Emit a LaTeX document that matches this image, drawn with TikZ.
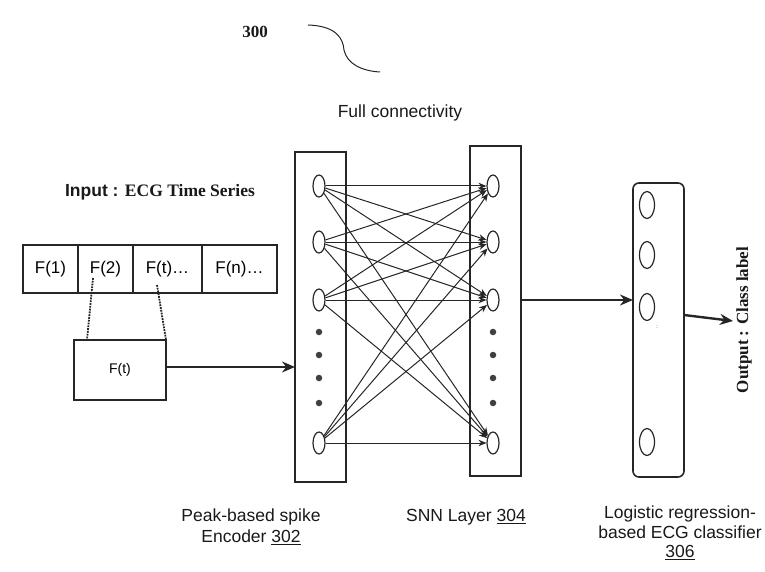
\documentclass[tikz,border=0pt]{standalone}
\usepackage{fontspec}
\setmainfont{Liberation Sans}
\newfontfamily\timesfont{Liberation Serif}
\usepackage{tikz}
\usetikzlibrary{arrows.meta,positioning,shapes.geometric}
\tikzset{
  layerbox/.style={
    rectangle, draw=black!85, line width=1.6pt,
    minimum width=51pt, inner sep=0pt, outer sep=0pt
  },
  neuron/.style={
    ellipse, draw=black!85, line width=1.2pt,
    minimum width=12pt, minimum height=22pt, inner sep=0pt
  },
  clsneuron/.style={
    ellipse, draw=black!85, line width=1.2pt,
    minimum width=15pt, minimum height=27pt, inner sep=0pt
  },
  dotmark/.style={circle, fill=black!75, minimum size=6.5pt, inner sep=0pt},
  cell/.style={
    rectangle, draw=black!85, line width=1.4pt, minimum height=48pt,
    inner sep=0pt, outer sep=0pt, font=\fontsize{17}{20}\selectfont
  },
  link/.style={-{Stealth[length=8pt,width=6.5pt]}, line width=1pt, black!85},
  arrow/.style={-{Stealth[length=13pt,width=11pt]}, line width=2.4pt, black!85},
  tap/.style={densely dotted, line width=1.8pt, black!85},
  caption/.style={font=\fontsize{17.5}{21}\selectfont, align=center, text=black!90},
  serifcap/.style={font=\timesfont\bfseries\fontsize{17}{20}\selectfont, text=black!90},
}

\begin{document}
\begin{tikzpicture}[x=1pt, y=-1pt]
  \useasboundingbox (0,0) rectangle (765,572);

  % Figure number and leader
  \node[serifcap] (fignum) at (255,32) {300};
  \draw[line width=1pt, black!85] (308,25) .. controls (336,26) and (343,38) .. (344,50)
    .. controls (347,64) and (362,71) .. (380,72);

  % Input time series
  \node[caption] (inlbl) at (160,192)
    {\bfseries Input : {\timesfont\bfseries ECG Time Series}};
  \node[cell, minimum width=55pt, anchor=west] (f1) at (23,269) {F(1)};
  \node[cell, minimum width=55pt, right=0pt of f1] (f2) {F(2)};
  \node[cell, minimum width=69pt, right=0pt of f2] (f3) {F(t)\dots};
  \node[cell, minimum width=75pt, right=0pt of f3] (f4) {F(n)\dots};

  % Current sample
  \node[cell, minimum width=92pt, minimum height=60pt,
    font=\fontsize{14}{16}\selectfont] (ft) at (120,370) {F(t)};
  \coordinate (tapa) at (93,278);
  \coordinate (tapb) at (157,285);
  \draw[tap] (tapa) -- ([xshift=13pt]ft.north west);
  \draw[tap] (tapb) -- (ft.north east);

  % Layer boxes
  \node[layerbox, minimum height=330pt] (enc) at (320.5,317) {};
  \node[layerbox, minimum height=330pt] (snn) at (495.5,311) {};
  \node[layerbox, rounded corners=6pt, minimum height=294pt] (cls) at (658.5,330) {};

  % Neurons
  \foreach \i/\y in {1/186,2/242,3/300,4/443} {
    \node[neuron] (in\i) at (319,\y) {};
    \node[neuron] (out\i) at (493,\y) {};
  }
  \foreach \y in {332,355,378,403} {
    \node[dotmark] (ldot\y) at (319,\y) {};
    \node[dotmark] (rdot\y) at (493,\y) {};
  }
  \foreach \i/\y in {1/205,2/255,3/307,4/442}
    \node[clsneuron] (cn\i) at (647,\y) {};
  \node[font=\tiny] (gap) at (657,327) {:};

  % Full connectivity
  \foreach \i in {1,...,4}
    \foreach \j in {1,...,4}
      \draw[link] (in\i) -- (out\j);

  % Main arrows
  \draw[arrow] ([yshift=3pt]ft.east) -- ([yshift=3pt]ft.east -| enc.west);
  \draw[arrow] (snn.east |- out3) -- (cls.west |- out3);
  \coordinate (outtip) at (733,321);
  \draw[arrow] ([yshift=15pt]cls.east) -- (outtip);

  % Captions
  \node[caption] (fulllbl) at (400,113) {Full connectivity};
  \node[caption] (enclbl) at (251,527) {Peak-based spike\\Encoder \underline{302}};
  \node[caption] (snnlbl) at (466,517) {SNN Layer \underline{304}};
  \node[caption, font=\fontsize{17.5}{19.5}\selectfont] (clslbl) at (680,533)
    {Logistic regression-\\based ECG classifier\\\underline{306}};
  \node[serifcap, rotate=90] (outlbl) at (744,320) {Output : Class label};
\end{tikzpicture}
\end{document}
